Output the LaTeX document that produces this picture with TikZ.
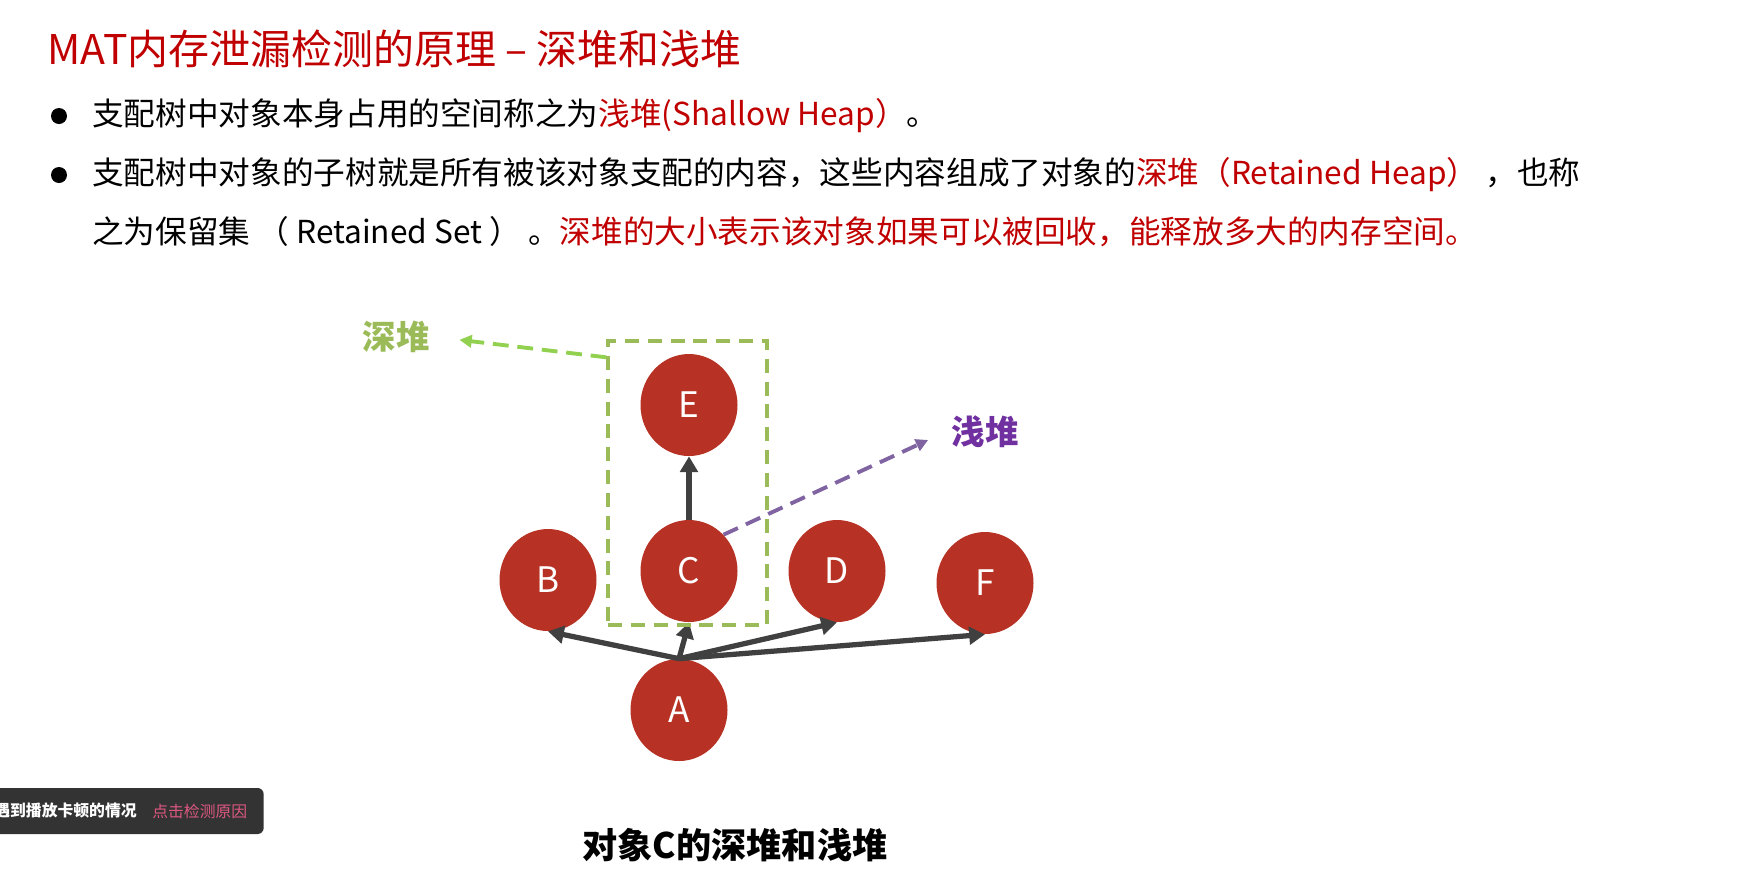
\documentclass[tikz,border=0pt]{standalone}
\usepackage{fontspec}
\setmainfont{Noto Sans CJK SC}
\usepackage{tikz}
\usetikzlibrary{shapes.geometric, arrows.meta, positioning, calc}
\definecolor{titlered}{RGB}{192, 0, 0}
\definecolor{nodered}{RGB}{183, 50, 36}
\definecolor{arrowgray}{RGB}{64, 64, 64}
\definecolor{deepgreen}{RGB}{155, 187, 89}
\definecolor{deeparrow}{RGB}{146, 208, 80}
\definecolor{shallowpurple}{RGB}{112, 48, 160}
\definecolor{shallowarrow}{RGB}{128, 100, 162}
\definecolor{tipgray}{RGB}{51, 51, 51}
\definecolor{tippink}{RGB}{222, 88, 130}

\begin{document}
\begin{tikzpicture}[
    obj/.style={ellipse, fill=nodered, minimum width=1.94cm, minimum height=2.04cm, inner sep=0pt, text=white, font=\fontsize{20}{24}\selectfont},
    ref/.style={-{Triangle[length=9pt, width=10pt]}, line width=3pt, arrowgray},
    hint/.style={-{Triangle[length=7pt, width=7pt]}, dash pattern=on 9pt off 5pt, line width=2.2pt},
    deepbox/.style={draw=deepgreen, dash pattern=on 8pt off 5pt, line width=1.9pt, inner sep=0pt},
    textline/.style={anchor=west, inner sep=0pt, font=\fontsize{18}{22}\selectfont},
    bullet/.style={circle, fill=black, minimum size=0.32cm, inner sep=0pt},
    tag/.style={font=\fontsize{19}{22}\selectfont\bfseries}
]
\useasboundingbox (0,0) rectangle (35.2,-17.48);
\begin{scope}
\clip (0,0) rectangle (35.2,-17.48);

% Title
\node[anchor=west, inner sep=0pt, text=titlered, font=\fontsize{23.3}{28}\selectfont] (title) at (0.94,-0.98) {MAT内存泄漏检测的原理 – 深堆和浅堆};

% Bullet points
\node[bullet] (d1) at (1.18,-2.32) {};
\node[textline] (l1) at (1.84,-2.32) {支配树中对象本身占用的空间称之为\textcolor{titlered}{浅堆(Shallow Heap）}。};
\node[bullet] (d2) at (1.18,-3.50) {};
\node[textline] (l2) at (1.84,-3.50) {支配树中对象的子树就是所有被该对象支配的内容，这些内容组成了对象的\textcolor{titlered}{深堆（Retained Heap）}\ ，也称};
\node[textline] (l3) at (1.84,-4.64) {之为保留集\ （ Retained Set ）\ 。\textcolor{titlered}{深堆的大小表示该对象如果可以被回收，能释放多大的内存空间。}};

% Objects
\node[obj] (E) at (13.78,-8.10) {E};
\node[obj] (C) at (13.78,-11.42) {C};
\node[obj] (B) at (10.96,-11.60) {B};
\node[obj] (D) at (16.74,-11.42) {D};
\node[obj] (F) at (19.70,-11.66) {F};
\node[obj] (A) at (13.58,-14.20) {A};

% References
\draw[ref] (A.north) -- (B.south);
\draw[ref] (A.north) -- (C.south);
\draw[ref] (A.north) -- (D.south);
\draw[ref] (A.north) -- (F.south);
\draw[ref] (C.north) -- (E.south);

% Retained set of C
\node[deepbox, minimum width=3.18cm, minimum height=5.68cm] (box) at (13.75,-9.66) {};
\node[tag, text=deepgreen] (deep) at (7.92,-6.74) {深堆};
\coordinate (boxedge) at ($(box.north west)+(0,-0.36)$);
\draw[hint, deeparrow, shorten >=0.48cm] (boxedge) -- (deep.east);

% Shallow size of C
\node[tag, text=shallowpurple] (shallow) at (19.70,-8.64) {浅堆};
\draw[hint, shallowarrow, shorten >=0.38cm] (C.north east) -- (shallow.west);

\node[font=\fontsize{20}{24}\selectfont\bfseries] (caption) at (14.7,-16.9) {对象C的深堆和浅堆};

% Player notice
\node[fill=tipgray, rounded corners=0.12cm, minimum width=5.58cm, minimum height=0.92cm, anchor=east] (tip) at (5.28,-16.22) {};
\node[anchor=east, inner sep=0pt, text=white, font=\fontsize{9}{10}\selectfont\bfseries] (tipmsg) at (2.74,-16.22) {遇到播放卡顿的情况};
\node[anchor=west, inner sep=0pt, text=tippink, font=\fontsize{9}{10}\selectfont] (tiplink) at (3.04,-16.22) {点击检测原因};
\end{scope}
\end{tikzpicture}
\end{document}
